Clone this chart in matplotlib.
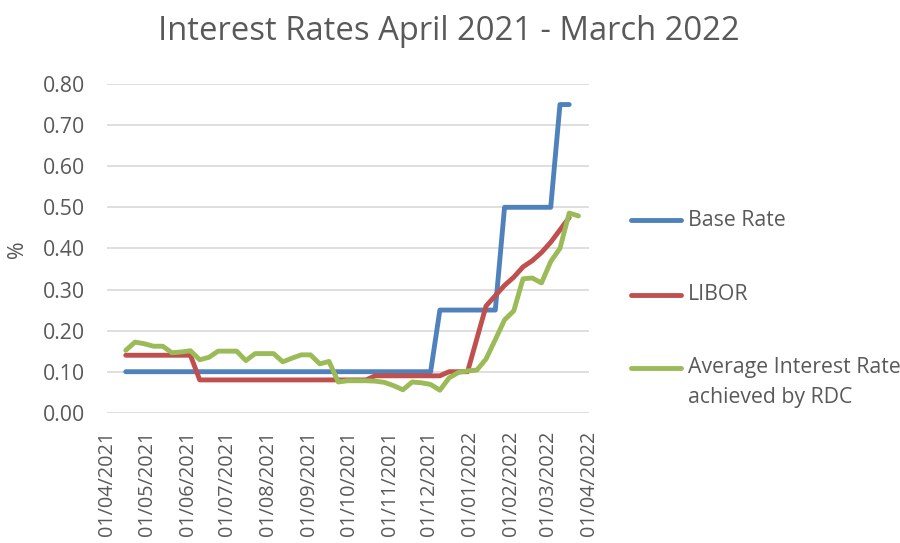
import matplotlib
matplotlib.use("Agg")
import matplotlib.pyplot as plt
from matplotlib.lines import Line2D
import pandas as pd

# ---- data ----
week_dates = pd.date_range("2021-04-15", periods=50, freq="7D")

base_rate = [0.10] * 34 + [0.25] * 7 + [0.50] * 6 + [0.75] * 2

libor = ([0.14] * 8 + [0.08] * 19 + [0.09] * 8 + [0.10] * 3 +
         [0.18, 0.26, 0.285, 0.31, 0.33, 0.355, 0.37, 0.39, 0.415, 0.445, 0.475])

rdc_avg = [0.152, 0.172, 0.168, 0.162, 0.162, 0.146, 0.148, 0.151, 0.129, 0.135,
           0.150, 0.150, 0.150, 0.127, 0.144, 0.144, 0.144, 0.124, 0.133, 0.141,
           0.141, 0.119, 0.125, 0.075, 0.078, 0.078, 0.078, 0.077, 0.074, 0.066,
           0.056, 0.075, 0.073, 0.069, 0.055, 0.085, 0.098, 0.102, 0.104, 0.131,
           0.178, 0.226, 0.248, 0.326, 0.328, 0.316, 0.368, 0.400, 0.486, 0.479]

series_names = ["Base Rate", "LIBOR", "Average Interest Rate\nachieved by RDC"]
title = "Interest Rates April 2021 - March 2022"
y_ticks = [0.0, 0.1, 0.2, 0.3, 0.4, 0.5, 0.6, 0.7, 0.8]
x_ticks = pd.date_range("2021-04-01", "2022-04-01", freq="MS")

# ---- style ----
FONT = "Open Sans"
TXT = "#595959"
COLORS = ["#4F81BD", "#C0504D", "#9BBB59"]
LW = 3.5
W, H = 900, 543
FS = 15.3

plt.rcParams["font.family"] = [FONT, "DejaVu Sans"]

fig = plt.figure(figsize=(9, 5.43), dpi=100)
left, right, top, bottom = 107.3, 589, 84, 412.8
ax = fig.add_axes([left / W, 1 - bottom / H, (right - left) / W, (bottom - top) / H])

data = [base_rate, libor, rdc_avg]
for vals, c in zip(data, COLORS):
    ax.plot(week_dates[:len(vals)], vals, color=c, lw=LW,
            solid_joinstyle="round", solid_capstyle="round", zorder=3)

ax.set_ylim(0, 0.8)
ax.set_xlim(x_ticks[0], x_ticks[-1])
ax.set_yticks(y_ticks)
ax.set_yticklabels([f"{v:.2f}" for v in y_ticks])
ax.set_xticks(x_ticks)
ax.set_xticklabels([d.strftime("%d/%m/%Y") for d in x_ticks], rotation=90, va="top", ha="center")
ax.yaxis.grid(True, color="#D9D9D9", lw=1.2)
ax.set_axisbelow(True)
for s in ax.spines.values():
    s.set_visible(False)
ax.tick_params(axis="both", length=0, labelcolor=TXT)
ax.tick_params(axis="y", pad=16, labelsize=FS)
ax.tick_params(axis="x", pad=13, labelsize=14.3)

fig.text(449 / W, 1 - 31 / H, title, ha="center", va="center", fontsize=23.6, color=TXT)
fig.text(18 / W, 1 - 249 / H, "%", rotation=90, ha="center", va="center", fontsize=FS, color=TXT)

# legend (manual)
leg_y = [220, 295, 368]
for name, c, yy in zip(series_names, COLORS, leg_y):
    fig.add_artist(Line2D([631 / W, 681 / W], [1 - yy / H, 1 - yy / H], color=c, lw=LW,
                          solid_capstyle="round", transform=fig.transFigure))
    lines = name.split("\n")
    for k, ln in enumerate(lines):
        fig.text(688 / W, 1 - (yy + 29 * k) / H, ln, ha="left", va="center",
                 fontsize=FS, color=TXT)

fig.savefig("out.png", dpi=100)
